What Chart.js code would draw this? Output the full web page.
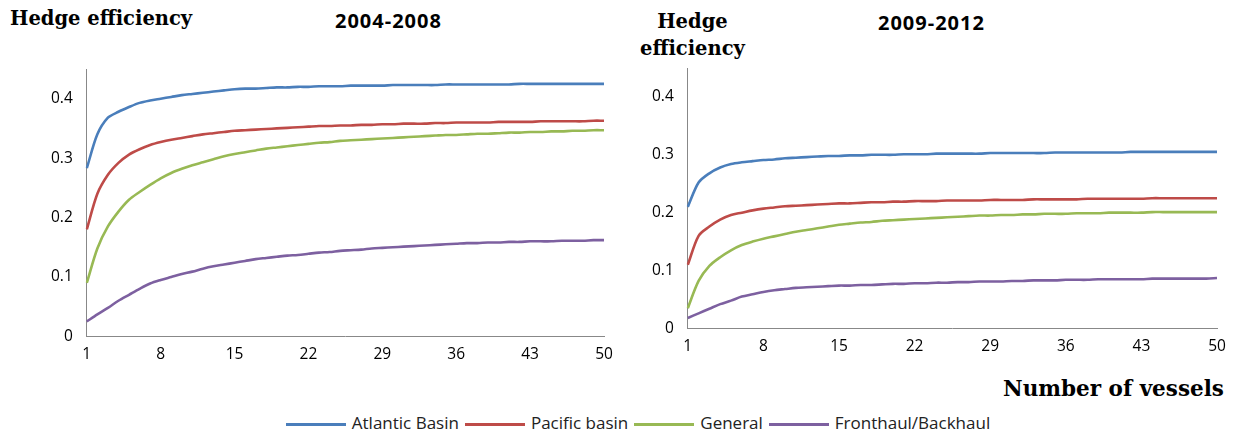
<!DOCTYPE html>
<html><head><meta charset="utf-8">
<script src="https://cdn.jsdelivr.net/npm/chart.js@4/dist/chart.umd.min.js"></script>
<style>
body{margin:0;width:1236px;height:434px;background:#fff;position:relative;overflow:hidden;font-family:"Open Sans",sans-serif}
.t{position:absolute;font-weight:bold;color:#000}
.serif{font-family:"DejaVu Serif",serif;font-size:19.5px}
.sans{font-family:"Open Sans",sans-serif;font-size:20px;letter-spacing:1px}
canvas{position:absolute;top:0}
#legend{position:absolute;top:411px;left:0;width:1236px;text-align:center;font-size:17px;color:#222;padding-left:40px;box-sizing:border-box}
#legend span{display:inline-block;margin:0 3px}
#legend i{display:inline-block;width:60px;height:3px;vertical-align:middle;margin-right:6px}
</style></head><body>
<div class="t serif" style="left:10px;top:7px">Hedge efficiency</div>
<div class="t sans" style="left:335px;top:7px">2004-2008</div>
<div class="t serif" style="left:640px;top:8px;text-align:center;line-height:27px">Hedge<br>efficiency</div>
<div class="t sans" style="left:878px;top:9px">2009-2012</div>
<div class="t serif" style="left:1003px;top:376px;font-size:21.5px">Number of vessels</div>
<div style="position:absolute;left:0;top:0;width:620px;height:367px"><canvas id="c1"></canvas></div>
<div style="position:absolute;left:620px;top:0;width:616px;height:359px"><canvas id="c2"></canvas></div>
<div id="legend"></div>
<script>
const vessels = Array.from({length: 50}, (_, i) => i + 1);
const seriesNames = ['Atlantic Basin', 'Pacific basin', 'General', 'Fronthaul/Backhaul'];
const seriesColors = ['#4a7ebb', '#be4b48', '#98b954', '#7d60a0'];

// 2004-2008
const atlantic0408 = [.283,.340,.368,.378,.386,.393,.397,.400,.403,.406,.408,.410,.412,.414,.416,.417,.417,.418,.419,.419,.420,.420,.421,.421,.421,.422,.422,.422,.422,.423,.423,.423,.423,.423,.424,.424,.424,.424,.424,.424,.424,.425,.425,.425,.425,.425,.425,.425,.425,.425];
const pacific0408 = [.180,.240,.272,.292,.306,.315,.322,.327,.331,.334,.337,.340,.342,.344,.346,.347,.348,.349,.350,.351,.352,.353,.354,.354,.355,.355,.356,.356,.357,.357,.358,.358,.358,.359,.359,.360,.360,.360,.360,.361,.361,.361,.361,.362,.362,.362,.362,.362,.363,.363];
const general0408 = [.090,.148,.185,.210,.230,.243,.255,.266,.275,.282,.288,.293,.298,.303,.307,.310,.313,.316,.318,.320,.322,.324,.326,.327,.329,.330,.331,.332,.333,.334,.335,.336,.337,.338,.339,.339,.340,.341,.341,.342,.343,.343,.344,.344,.345,.345,.346,.346,.347,.347];
const fronthaul0408 = [.025,.037,.048,.060,.070,.080,.089,.095,.100,.105,.109,.114,.118,.121,.124,.127,.130,.132,.134,.136,.137,.139,.141,.142,.144,.145,.146,.148,.149,.150,.151,.152,.153,.154,.155,.156,.157,.157,.158,.158,.159,.159,.160,.160,.160,.161,.161,.161,.162,.162];

// 2009-2012
const atlantic0912 = [.210,.252,.268,.278,.284,.287,.289,.291,.292,.294,.295,.296,.297,.298,.298,.299,.299,.300,.300,.300,.301,.301,.301,.302,.302,.302,.302,.302,.303,.303,.303,.303,.303,.303,.304,.304,.304,.304,.304,.304,.304,.305,.305,.305,.305,.305,.305,.305,.305,.305];
const pacific0912 = [.110,.160,.176,.188,.196,.200,.204,.207,.209,.211,.212,.213,.214,.215,.216,.216,.217,.218,.218,.219,.219,.220,.220,.220,.221,.221,.221,.221,.222,.222,.222,.222,.223,.223,.223,.223,.223,.224,.224,.224,.224,.224,.224,.225,.225,.225,.225,.225,.225,.225];
const general0912 = [.035,.082,.108,.123,.135,.144,.150,.155,.159,.163,.167,.170,.173,.176,.179,.181,.183,.184,.186,.187,.188,.189,.190,.191,.192,.193,.194,.195,.195,.196,.196,.197,.197,.198,.198,.198,.199,.199,.199,.200,.200,.200,.200,.201,.201,.201,.201,.201,.201,.201];
const fronthaul0912 = [.018,.026,.034,.042,.048,.055,.059,.063,.066,.068,.070,.071,.072,.073,.074,.074,.075,.075,.076,.077,.077,.078,.078,.079,.079,.080,.080,.081,.081,.081,.082,.082,.083,.083,.083,.084,.084,.084,.085,.085,.085,.085,.085,.086,.086,.086,.086,.086,.086,.087];

const xTicks = [1, 8, 15, 22, 29, 36, 43, 50];
const yTicks = [0, 0.1, 0.2, 0.3, 0.4];

function makeChart(id, series, padding) {
  new Chart(document.getElementById(id), {
    type: 'line',
    data: {
      labels: vessels,
      datasets: series.map((d, i) => ({
        label: seriesNames[i], data: d, borderColor: seriesColors[i],
        borderWidth: 2.6, pointRadius: 0, tension: 0.3
      }))
    },
    options: {
      responsive: true, maintainAspectRatio: false, animation: false,
      layout: {padding: padding},
      plugins: {legend: {display: false}, tooltip: {enabled: false}},
      scales: {
        x: {
          grid: {display: false, drawTicks: true, tickLength: 6, color: '#888'},
          border: {color: '#888'},
          ticks: {autoSkip: false, maxRotation: 0, color: '#000', font: {size: 15.5, family: 'Open Sans'},
            callback: (v, i) => xTicks.includes(vessels[i]) ? String(vessels[i]) : ''}
        },
        y: {
          min: 0, max: 0.45,
          afterBuildTicks: ax => { ax.ticks = yTicks.map(v => ({value: v})); },
          grid: {display: false, drawTicks: true, tickLength: 6, color: '#888'},
          border: {color: '#888'},
          ticks: {color: '#000', font: {size: 15.5, family: 'Open Sans'}, padding: 8,
            callback: v => v === 0 ? '0' : String(v)}
        }
      }
    }
  });
}
makeChart('c1', [atlantic0408, pacific0408, general0408, fronthaul0408], {top: 69, left: 43, right: 16, bottom: 0});
makeChart('c2', [atlantic0912, pacific0912, general0912, fronthaul0912], {top: 68, left: 24, right: 19, bottom: 0});

document.getElementById('legend').innerHTML = seriesNames.map((n, i) =>
  `<span><i style="background:${seriesColors[i]}"></i>${n}</span>`).join('');
</script>
</body></html>
